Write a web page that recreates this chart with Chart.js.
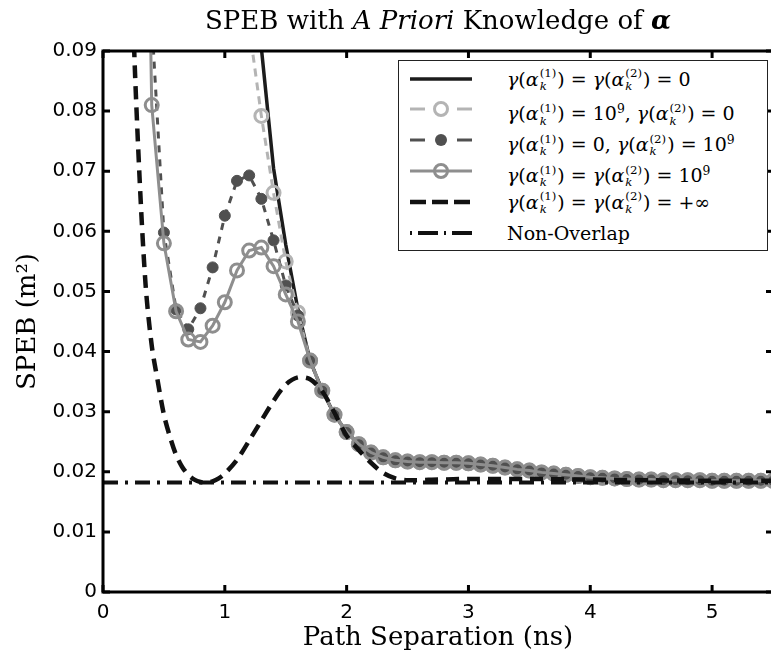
<!DOCTYPE html>
<html><head><meta charset="utf-8">
<script src="https://cdn.jsdelivr.net/npm/chart.js@4/dist/chart.umd.min.js"></script>
<style>
html,body{margin:0;padding:0;overflow:hidden;background:#fff;}
#wrap{position:relative;width:790px;height:658px;}
#title{position:absolute;left:103px;width:670px;top:7px;text-align:center;font-family:"DejaVu Serif";font-size:26px;line-height:1;color:#000;white-space:nowrap;}
#legend{position:absolute;left:398px;top:60px;width:370px;height:191px;border:1.5px solid #222;background:#fff;box-sizing:border-box;}
.row{position:absolute;left:0;height:30px;width:100%;}
.row svg{position:absolute;left:10px;top:0;}
.row .txt{position:absolute;left:108px;top:0;height:30px;font-family:"DejaVu Serif";font-size:19px;line-height:30px;white-space:nowrap;color:#000;}
.st{display:inline-block;vertical-align:middle;font-size:0.62em;line-height:1.05;margin:0 1px 0 1px;position:relative;top:-1px;}
.st span{display:block;}
.mi{font-style:italic;}
</style>
</head><body>
<div id="wrap">
<canvas id="c"></canvas>
<div id="title">SPEB with <i>A Priori</i> Knowledge of <b><i>α</i></b></div>
<div id="legend"></div>
</div>
<script>
// ---- data ----
const xTickValues = [0, 1, 2, 3, 4, 5];
const yTickValues = [0, 0.01, 0.02, 0.03, 0.04, 0.05, 0.06, 0.07, 0.08, 0.09];

const seriesLabels = [
  "γ(α_k^(1)) = γ(α_k^(2)) = 0",
  "γ(α_k^(1)) = 10^9, γ(α_k^(2)) = 0",
  "γ(α_k^(1)) = 0, γ(α_k^(2)) = 10^9",
  "γ(α_k^(1)) = γ(α_k^(2)) = 10^9",
  "γ(α_k^(1)) = γ(α_k^(2)) = +∞",
  "Non-Overlap"
];

// common tail shared by the four finite-prior curves (path separation >= 1.7 ns)
const tailX = [1.7,1.8,1.9,2.0,2.1,2.2,2.3,2.4,2.5,2.6,2.7,2.8,2.9,3.0,3.1,3.2,3.3,3.4,3.5,3.6,3.7,3.8,3.9,4.0,4.1,4.2,4.3,4.4,4.5,4.6,4.7,4.8,4.9,5.0,5.1,5.2,5.3,5.4,5.5];
const tailY = [0.0385,0.0335,0.0295,0.0266,0.0246,0.0232,0.0224,0.0219,0.0217,0.0216,0.0216,0.0215,0.0215,0.0214,0.0212,0.0210,0.0207,0.0204,0.0202,0.0199,0.0197,0.0195,0.0193,0.0191,0.0190,0.0189,0.0188,0.0187,0.0187,0.0186,0.0186,0.0186,0.0186,0.0185,0.0185,0.0185,0.0185,0.0185,0.0185];

const s1X = [1.2, 1.3, 1.4, 1.5, 1.6];
const s1Y = [0.112, 0.0905, 0.0705, 0.0578, 0.0470];

const s2X = [1.2, 1.3, 1.4, 1.5, 1.6];
const s2Y = [0.094, 0.0792, 0.0664, 0.0550, 0.0465];

const s3X = [0.3, 0.4, 0.5, 0.6, 0.7, 0.8, 0.9, 1.0, 1.1, 1.2, 1.3, 1.4, 1.5, 1.6];
const s3Y = [0.2, 0.095, 0.0598, 0.0470, 0.0437, 0.0472, 0.0540, 0.0626, 0.0684, 0.0693, 0.0654, 0.0585, 0.0510, 0.0460];

const s4X = [0.3, 0.4, 0.5, 0.6, 0.7, 0.8, 0.9, 1.0, 1.1, 1.2, 1.3, 1.4, 1.5, 1.6];
const s4Y = [0.2, 0.081, 0.058, 0.0467, 0.0420, 0.0416, 0.0443, 0.0482, 0.0535, 0.0568, 0.0573, 0.0542, 0.0495, 0.0450];

const s5X = [0.2,0.25,0.3,0.35,0.4,0.45,0.5,0.55,0.6,0.65,0.7,0.75,0.8,0.85,0.9,0.95,1.0,1.1,1.2,1.3,1.4,1.5,1.6,1.7,1.8,1.9,2.0,2.1,2.2,2.3,2.4,2.5,2.75,3.0,3.5,4.0,4.5,5.0,5.5];
const s5Y = [0.14,0.094,0.069,0.051,0.041,0.035,0.0295,0.0258,0.0228,0.0208,0.0195,0.0187,0.0183,0.0182,0.0184,0.0189,0.0197,0.0220,0.0252,0.0285,0.0318,0.0345,0.0357,0.0354,0.0334,0.0298,0.0260,0.0236,0.0215,0.0198,0.0189,0.0186,0.0187,0.0188,0.0188,0.0187,0.0186,0.0185,0.0185];

const nonOverlapX = [0, 5.5];
const nonOverlapY = [0.0182, 0.0182];

// ---- helpers ----
function pts(xs, ys) { return xs.map((x, i) => ({ x: x, y: ys[i] })); }

const styles = [
  { color: '#1c1c1c', width: 3.5, dash: [], marker: 'none' },
  { color: '#b4b4b4', width: 3, dash: [8, 6], marker: 'open' },
  { color: '#505050', width: 3, dash: [7, 7], marker: 'filled' },
  { color: '#8e8e8e', width: 3, dash: [], marker: 'open' },
  { color: '#111111', width: 4.5, dash: [13, 8], marker: 'none' },
  { color: '#111111', width: 4, dash: [15, 7, 3, 7], marker: 'none' }
];

const seriesData = [
  pts(s1X.concat(tailX), s1Y.concat(tailY)),
  pts(s2X.concat(tailX), s2Y.concat(tailY)),
  pts(s3X.concat(tailX), s3Y.concat(tailY)),
  pts(s4X.concat(tailX), s4Y.concat(tailY)),
  pts(s5X, s5Y),
  pts(nonOverlapX, nonOverlapY)
];

const datasets = seriesData.map((d, i) => {
  const st = styles[i];
  return {
    label: seriesLabels[i],
    data: d,
    borderColor: st.color,
    borderWidth: st.width,
    borderDash: st.dash,
    pointRadius: st.marker === 'none' ? 0 : (st.marker === 'filled' ? 5.5 : 6.5),
    pointBorderWidth: st.marker === 'filled' ? 1 : 3,
    pointBorderColor: st.color,
    pointBackgroundColor: st.marker === 'filled' ? st.color : 'rgba(0,0,0,0)',
    fill: false,
    tension: i === 4 ? 0.3 : 0,
    order: 6 - i,
    clip: 0
  };
});

const framePlugin = {
  id: 'frame',
  afterDatasetsDraw(chart) {
    const ctx = chart.ctx, a = chart.chartArea, xs = chart.scales.x, ys = chart.scales.y;
    ctx.save();
    ctx.strokeStyle = '#000';
    ctx.lineWidth = 3;
    ctx.strokeRect(a.left, a.top, a.right - a.left, a.bottom - a.top);
    ctx.beginPath();
    xTickValues.forEach(v => {
      const p = xs.getPixelForValue(v);
      ctx.moveTo(p, a.bottom); ctx.lineTo(p, a.bottom - 7);
      ctx.moveTo(p, a.top); ctx.lineTo(p, a.top + 7);
    });
    yTickValues.forEach(v => {
      const p = ys.getPixelForValue(v);
      ctx.moveTo(a.left, p); ctx.lineTo(a.left + 7, p);
      ctx.moveTo(a.right, p); ctx.lineTo(a.right - 7, p);
    });
    ctx.stroke();
    ctx.restore();
  }
};

new Chart(document.getElementById('c'), {
  type: 'line',
  data: { datasets: datasets },
  options: {
    responsive: true,
    maintainAspectRatio: false,
    animation: false,
    events: [],
    layout: { padding: { left: 0, top: 51, right: 17, bottom: 0 } },
    plugins: { legend: { display: false }, tooltip: { enabled: false }, title: { display: false } },
    scales: {
      x: {
        type: 'linear', min: 0, max: 5.5,
        afterBuildTicks: s => { s.ticks = xTickValues.map(v => ({ value: v })); },
        afterFit: s => { s.height = 66; },
        grid: { display: false, drawTicks: false },
        border: { display: false },
        ticks: { autoSkip: false, maxRotation: 0, padding: 9, color: '#000',
                 font: { family: 'DejaVu Sans', size: 20 }, callback: v => String(v) },
        title: { display: true, text: 'Path Separation (ns)', color: '#000',
                 font: { family: 'DejaVu Serif', size: 26 }, padding: { top: 0, bottom: 4 } }
      },
      y: {
        type: 'linear', min: 0, max: 0.09,
        afterBuildTicks: s => { s.ticks = yTickValues.map(v => ({ value: v })); },
        afterFit: s => { s.width = 103; },
        grid: { display: false, drawTicks: false },
        border: { display: false },
        ticks: { autoSkip: false, padding: 6, color: '#000',
                 font: { family: 'DejaVu Sans', size: 20 },
                 callback: v => (v === 0 ? '0' : v.toFixed(2)) },
        title: { display: true, text: 'SPEB (m²)', color: '#000',
                 font: { family: 'DejaVu Serif', size: 26 }, padding: { top: 13, bottom: 0 } }
      }
    }
  },
  plugins: [framePlugin]
});

// ---- legend (HTML, for stacked sub/superscripts) ----
function g(n) {
  return '<span class="mi">γ</span>(<span class="mi">α</span><span class="st"><span>(' + n + ')</span><span class="mi">k</span></span>)';
}
const legendHtml = [
  g(1) + ' = ' + g(2) + ' = 0',
  g(1) + ' = 10<sup style="font-size:0.65em">9</sup>, ' + g(2) + ' = 0',
  g(1) + ' = 0, ' + g(2) + ' = 10<sup style="font-size:0.65em">9</sup>',
  g(1) + ' = ' + g(2) + ' = 10<sup style="font-size:0.65em">9</sup>',
  g(1) + ' = ' + g(2) + ' = +∞',
  'Non-Overlap'
];
const legendDash = ['', '', '', '', '16 6', '2 6 20 6'];
const leg = document.getElementById('legend');
styles.forEach((st, i) => {
  let line;
  if (i === 1 || i === 2) {
    line = '<line x1="1" y1="15" x2="16" y2="15" stroke="' + st.color + '" stroke-width="' + st.width + '"/>' +
           '<line x1="48" y1="15" x2="63" y2="15" stroke="' + st.color + '" stroke-width="' + st.width + '"/>';
  } else {
    line = '<line x1="1" y1="15" x2="63" y2="15" stroke="' + st.color + '" stroke-width="' + st.width + '"' +
           (legendDash[i] ? ' stroke-dasharray="' + legendDash[i] + '"' : '') + '/>';
  }
  let mk = '';
  if (st.marker === 'open') mk = '<circle cx="32" cy="15" r="6.5" fill="none" stroke="' + st.color + '" stroke-width="3"/>';
  if (st.marker === 'filled') mk = '<circle cx="32" cy="15" r="6" fill="' + st.color + '"/>';
  const row = document.createElement('div');
  row.className = 'row';
  row.style.top = (2.5 + i * 30.8) + 'px';
  row.innerHTML = '<svg width="64" height="30">' + line + mk + '</svg><div class="txt">' + legendHtml[i] + '</div>';
  leg.appendChild(row);
});
</script>
</body></html>
